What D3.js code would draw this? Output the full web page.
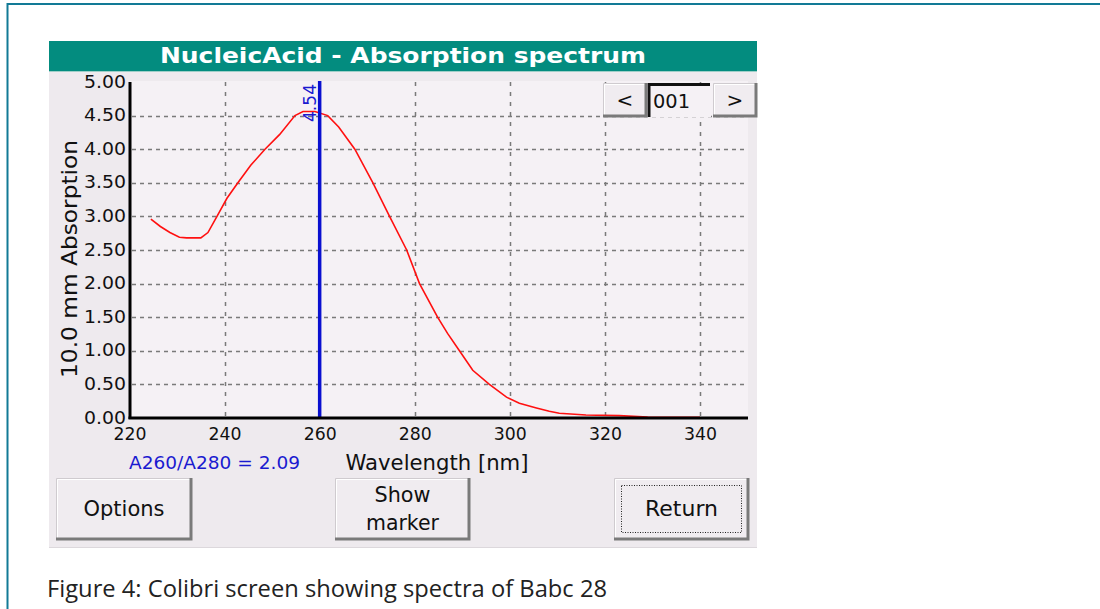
<!DOCTYPE html>
<html><head><meta charset="utf-8">
<script src="https://cdn.jsdelivr.net/npm/d3@7"></script>
<style>html,body{margin:0;padding:0;background:#fff;}svg{display:block;}</style>
</head><body>
<script>
// ---- data ----
const wavelengths = [224.5,226.5,228.5,230.5,232,235,236.5,238.4,240.5,242.8,245.5,248.5,251.6,254.8,256.5,259,261.7,264,267.4,271.2,274.7,278.3,281.0,284.8,286.9,289.4,292.2,295.7,299.3,302,305.6,308.3,310.4,316,323,329,340];
const absorption  = [2.96,2.85,2.76,2.69,2.68,2.68,2.76,3.00,3.27,3.50,3.76,4.00,4.22,4.50,4.56,4.56,4.50,4.33,4.00,3.50,3.00,2.50,2.00,1.50,1.26,1.00,0.71,0.50,0.31,0.22,0.15,0.10,0.07,0.045,0.035,0.015,0.01];
const xTicks = [220,240,260,280,300,320,340];
const xGrid = [240,280,300,320,340];
const yTicks = [0,0.5,1,1.5,2,2.5,3,3.5,4,4.5,5];
const markerWl = 260, markerVal = "4.54";
const ratioText = "A260/A280 = 2.09";
const titleText = "NucleicAcid - Absorption spectrum";
const yTitle = "10.0 mm Absorption";
const xTitle = "Wavelength [nm]";
const caption = "Figure 4: Colibri screen showing spectra of Babc 28";

const W = 1100, H = 609;
const svg = d3.select("body").append("svg").attr("width", W).attr("height", H);
const F = "'DejaVu Sans', sans-serif";

// frame
svg.append("rect").attr("x",0).attr("y",0).attr("width",W).attr("height",H).attr("fill","#fff");
svg.append("line").attr("x1",7).attr("x2",W).attr("y1",4).attr("y2",4).attr("stroke","#127a96").attr("stroke-width",2);
svg.append("line").attr("x1",7.5).attr("x2",7.5).attr("y1",3).attr("y2",H).attr("stroke","#127a96").attr("stroke-width",2);

// screen
svg.append("rect").attr("x",49).attr("y",41).attr("width",708).attr("height",507).attr("fill","#eeeaee");
svg.append("line").attr("x1",49).attr("x2",757).attr("y1",547.5).attr("y2",547.5).attr("stroke","#dcd8dc");
svg.append("rect").attr("x",49).attr("y",41).attr("width",708).attr("height",30).attr("fill","#038c7f");
svg.append("line").attr("x1",49).attr("x2",757).attr("y1",71.5).attr("y2",71.5).attr("stroke","#9fcfc8");
svg.append("text").attr("x",403).attr("y",63).attr("text-anchor","middle").attr("fill","#fff")
  .attr("font-family",F).attr("font-weight","bold").attr("font-size",21)
  .attr("textLength",486).attr("lengthAdjust","spacingAndGlyphs").text(titleText);

// scales
const x = d3.scaleLinear().domain([220,340]).range([129.5,700]);
const y = d3.scaleLinear().domain([0,5]).range([418,82]);

// plot background
svg.append("rect").attr("x",130).attr("y",81).attr("width",618).attr("height",337).attr("fill","#f5f1f5");

// grid
svg.append("g").selectAll("line").data(yTicks.filter(d=>d>0&&d<5)).join("line")
  .attr("x1",132).attr("x2",748).attr("y1",d=>Math.round(y(d))+0.5).attr("y2",d=>Math.round(y(d))+0.5)
  .attr("stroke","#7a7a7a").attr("stroke-width",1.5).attr("stroke-dasharray","4,4");
svg.append("g").selectAll("line").data(xGrid).join("line")
  .attr("x1",d=>Math.round(x(d))+0.5).attr("x2",d=>Math.round(x(d))+0.5).attr("y1",82).attr("y2",416)
  .attr("stroke","#7a7a7a").attr("stroke-width",1.5).attr("stroke-dasharray","4,6");

// curve
const pts = wavelengths.map((w,i)=>[w,absorption[i]]);
svg.append("path").datum(pts)
  .attr("d", d3.line().x(d=>x(d[0])).y(d=>y(d[1])).curve(d3.curveLinear))
  .attr("fill","none").attr("stroke","#ff1010").attr("stroke-width",1.6);

// marker
svg.append("line").attr("x1",x(markerWl)).attr("x2",x(markerWl)).attr("y1",81).attr("y2",418)
  .attr("stroke","#0a10d0").attr("stroke-width",3.5);
svg.append("text").attr("transform",`translate(${x(markerWl)-4},103) rotate(-90)`)
  .attr("text-anchor","middle").attr("fill","#1a1ad0").attr("font-family",F).attr("font-size",17.5)
  .attr("textLength",38).attr("lengthAdjust","spacingAndGlyphs").text(markerVal);

// axes
const yAxis = d3.axisLeft(y).tickValues(yTicks).tickSize(0).tickPadding(4).tickFormat(d3.format(".2f"));
const gy = svg.append("g").attr("transform","translate(130,0)").call(yAxis);
gy.select(".domain").remove();
gy.selectAll("text").attr("font-family",F).attr("font-size",17).attr("fill","#111").attr("dy","0.3em")
  .attr("textLength",42).attr("lengthAdjust","spacingAndGlyphs");
const xAxis = d3.axisBottom(x).tickValues(xTicks).tickSize(0).tickPadding(10).tickFormat(d3.format("d"));
const gx = svg.append("g").attr("transform","translate(0,418)").call(xAxis);
gx.select(".domain").remove();
gx.selectAll("text").attr("font-family",F).attr("font-size",17).attr("fill","#111")
  .attr("textLength",33).attr("lengthAdjust","spacingAndGlyphs");

svg.append("line").attr("x1",130).attr("x2",130).attr("y1",82).attr("y2",419).attr("stroke","#000").attr("stroke-width",3);
svg.append("line").attr("x1",128.5).attr("x2",748).attr("y1",418).attr("y2",418).attr("stroke","#000").attr("stroke-width",3);

// axis titles
svg.append("text").attr("transform","translate(77,259) rotate(-90)").attr("text-anchor","middle")
  .attr("font-family",F).attr("font-size",20.5).attr("fill","#111")
  .attr("textLength",238).attr("lengthAdjust","spacingAndGlyphs").text(yTitle);
svg.append("text").attr("x",437).attr("y",470).attr("text-anchor","middle")
  .attr("font-family",F).attr("font-size",21).attr("fill","#111")
  .attr("textLength",183).attr("lengthAdjust","spacingAndGlyphs").text(xTitle);
svg.append("text").attr("x",214.5).attr("y",469).attr("text-anchor","middle")
  .attr("font-family",F).attr("font-size",17.5).attr("fill","#1a1ad0")
  .attr("textLength",171).attr("lengthAdjust","spacingAndGlyphs").text(ratioText);

// buttons
function button(x0,y0,w,h,lines,focus,fs,lens){
  const g = svg.append("g");
  g.append("rect").attr("x",x0).attr("y",y0).attr("width",w).attr("height",h).attr("fill","#f0ecf0");
  g.append("path").attr("d",`M${x0+0.5},${y0+h}V${y0+0.5}H${x0+w}`).attr("stroke","#cfcbcf").attr("fill","none");
  g.append("path").attr("d",`M${x0+1.5},${y0+h-1}V${y0+1.5}H${x0+w-1}`).attr("stroke","#fff").attr("fill","none");
  g.append("path").attr("d",`M${x0},${y0+h-1}H${x0+w-1}V${y0}`).attr("stroke","#7a7a7a").attr("stroke-width",3).attr("fill","none");
  if(focus) g.append("rect").attr("x",x0+7.5).attr("y",y0+7.5).attr("width",w-15).attr("height",h-15)
      .attr("fill","none").attr("stroke","#222").attr("stroke-dasharray","1,1.5");
  const n = lines.length;
  lines.forEach((t,i)=>{
    const tx = g.append("text").attr("x",x0+w/2).attr("y",y0+h/2+(i-(n-1)/2)*28).attr("dy","0.35em").attr("text-anchor","middle")
      .attr("font-family",F).attr("font-size",fs).attr("fill","#111").text(t);
    if(lens) tx.attr("textLength",lens[i]).attr("lengthAdjust","spacingAndGlyphs");
  });
}
button(56,478,136,62,["Options"],false,20.5,[81]);
button(335,478,135,62,["Show","marker"],false,20.5,[56,73]);
button(614,478,135,62,["Return"],true,20.5,[73]);
button(603,83,44,34,["<"],false,20);
button(713,83,44,34,[">"],false,20);
// text box
svg.append("rect").attr("x",647).attr("y",83).attr("width",64).attr("height",34).attr("fill","#f5f1f5");
svg.append("path").attr("d","M649,117V84.5H710").attr("stroke","#111").attr("stroke-width",3).attr("fill","none");
svg.append("text").attr("x",653).attr("y",101).attr("dy","0.35em").attr("font-family",F).attr("font-size",19).attr("fill","#111")
  .attr("textLength",37).attr("lengthAdjust","spacingAndGlyphs").text("001");

// caption
svg.append("text").attr("x",47).attr("y",597).attr("font-family","'Open Sans', sans-serif").attr("font-size",23.5).attr("fill","#222")
  .attr("textLength",560).attr("lengthAdjust","spacingAndGlyphs").text(caption);
</script>
</body></html>
